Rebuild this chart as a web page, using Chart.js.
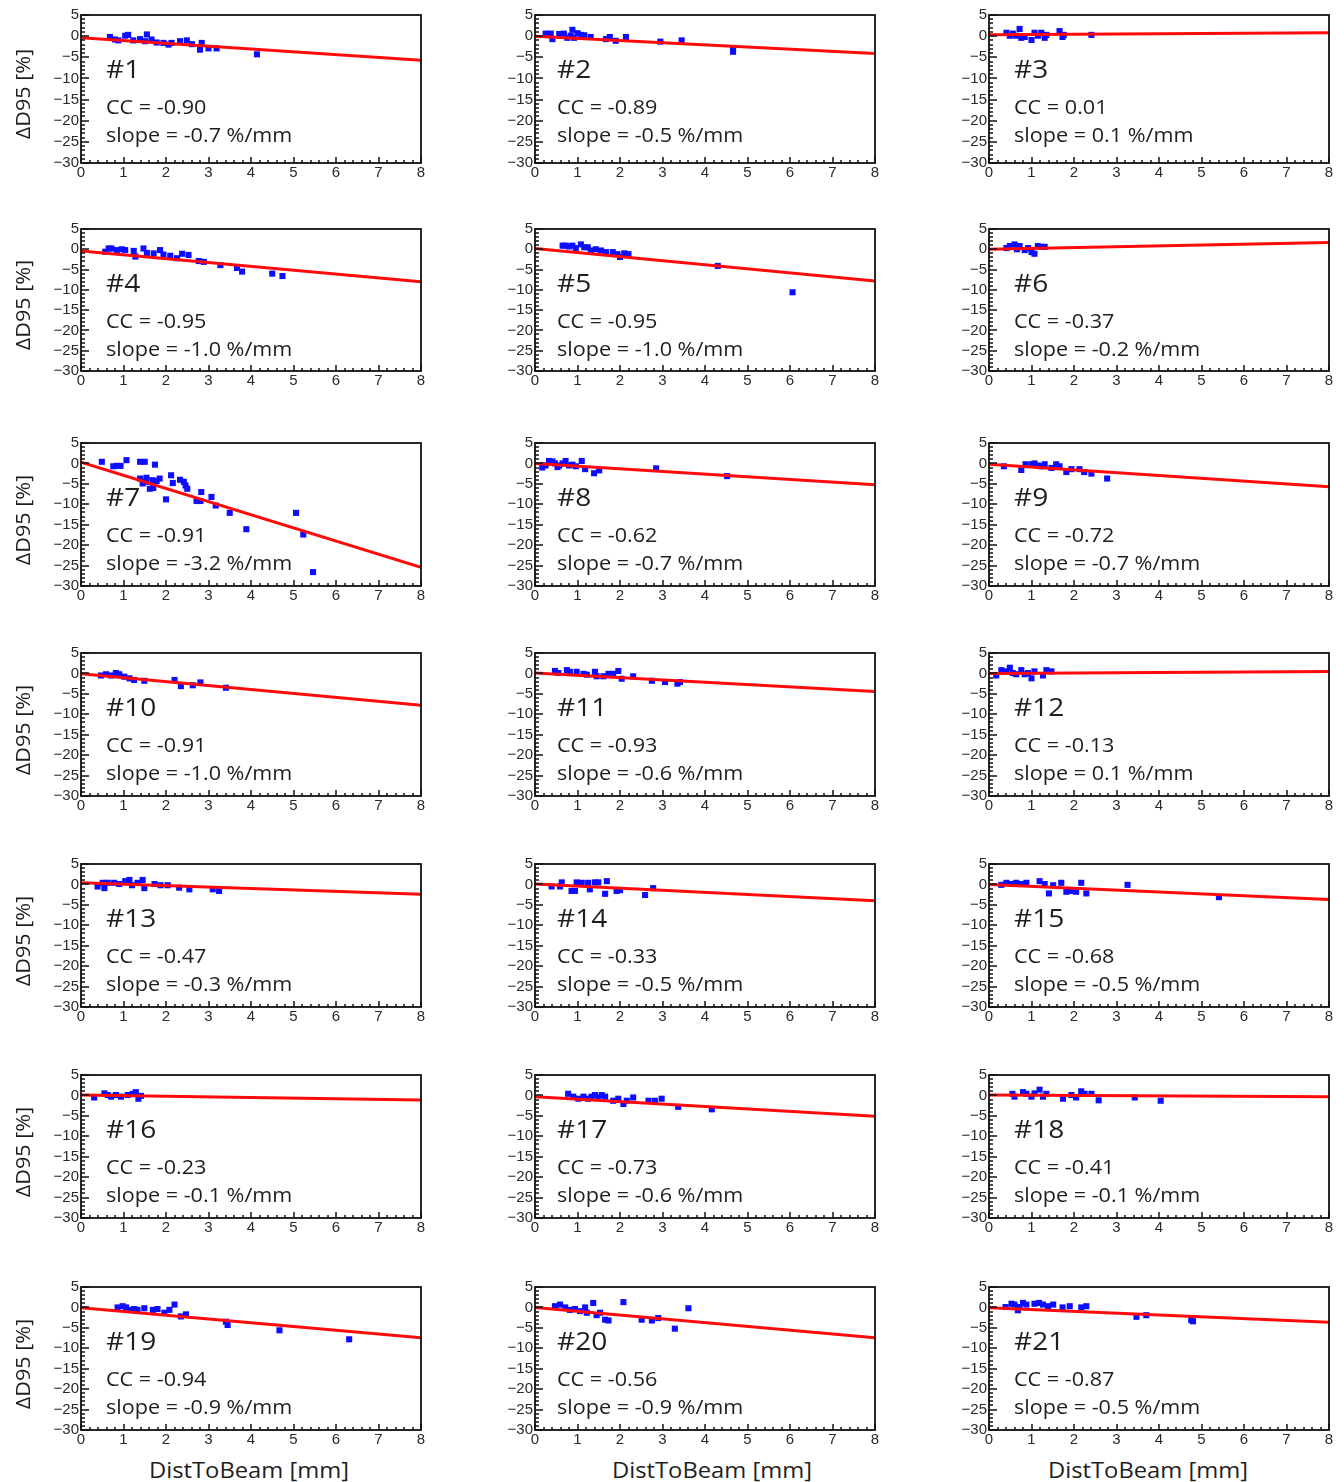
<!DOCTYPE html>
<html><head><meta charset="utf-8">
<script src="https://cdn.jsdelivr.net/npm/chart.js@4.4.1/dist/chart.umd.min.js"></script>
<style>
body{margin:0;background:#fff;width:1344px;height:1482px;position:relative;overflow:hidden;font-family:'Open Sans',sans-serif;color:#1e1e1e;}
canvas{position:absolute;}
.yt{position:absolute;white-space:nowrap;font-size:20px;transform:translate(-50%,-50%) rotate(-90deg) scaleX(1.08);}
.xt{position:absolute;white-space:nowrap;font-size:22px;transform:translate(-50%,-50%) scaleX(1.08);}
</style></head><body>
<script>
// ---- data ----
const panelLabels = ['#1','#2','#3','#4','#5','#6','#7','#8','#9','#10','#11','#12','#13','#14','#15','#16','#17','#18','#19','#20','#21'];
const ccValues = ['-0.90','-0.89','0.01','-0.95','-0.95','-0.37','-0.91','-0.62','-0.72','-0.91','-0.93','-0.13','-0.47','-0.33','-0.68','-0.23','-0.73','-0.41','-0.94','-0.56','-0.87'];
const slopeValues = ['-0.7','-0.5','0.1','-1.0','-1.0','-0.2','-3.2','-0.7','-0.7','-1.0','-0.6','0.1','-0.3','-0.5','-0.5','-0.1','-0.6','-0.1','-0.9','-0.9','-0.5'];
const fitStart = [-0.4,0,0.3,-0.4,0.2,0,0.3,0,-0.2,-0.1,0.1,0,0.4,0.1,0,0.1,-0.3,0.1,-0.1,0,-0.1];
const fitEnd = [-5.7,-4.1,0.8,-8.0,-7.8,1.7,-25.4,-5.2,-5.7,-7.8,-4.4,0.5,-2.4,-4.0,-3.7,-1.1,-5.1,-0.3,-7.4,-7.4,-3.6];
const xTicks = [0,1,2,3,4,5,6,7,8];
const yTicks = [5,0,-5,-10,-15,-20,-25,-30];
const yTitle = 'ΔD95 [%]';
const xTitle = 'DistToBeam [mm]';

const d1 = [[0.68,-0.2],[0.80,-0.8],[0.88,-1.0],[1.04,0.1],[1.11,0.3],[1.23,-1.0],[1.39,-0.7],[1.51,-1.2],[1.55,0.4],[1.66,-0.8],[1.78,-1.5],[1.94,-1.6],[2.06,-2.0],[2.13,-1.6],[2.33,-1.2],[2.49,-1.0],[2.61,-1.9],[2.80,-3.2],[2.84,-1.6],[3.0,-2.9],[3.19,-2.9],[4.14,-4.3]];
const d2 = [[0.25,0.6],[0.37,0.6],[0.41,-0.7],[0.57,0.5],[0.68,0.6],[0.76,-0.4],[0.84,0.1],[0.88,1.5],[0.92,-0.4],[1.0,0.7],[1.08,0.3],[1.16,0.2],[1.31,-0.2],[1.67,-0.7],[1.76,-0.2],[1.90,-1.1],[2.14,-0.2],[2.95,-1.3],[3.45,-1.0],[4.66,-3.0],[4.66,-3.7]];
const d3 = [[0.41,0.8],[0.49,0.1],[0.56,0.6],[0.64,0.1],[0.72,1.7],[0.76,-0.4],[0.84,-0.2],[1.0,-0.9],[1.07,0.8],[1.15,0.1],[1.23,0.8],[1.31,-0.4],[1.35,0.3],[1.66,1.2],[1.73,-0.2],[1.76,0.3],[2.41,0.3]];
const d4 = [[0.57,-0.6],[0.65,0.2],[0.72,0.2],[0.84,-0.2],[0.96,0],[1.04,-0.2],[1.24,-0.4],[1.28,-1.8],[1.47,0.2],[1.55,-0.9],[1.71,-1.0],[1.86,-0.2],[1.94,-1.3],[2.10,-1.6],[2.26,-2.2],[2.38,-1.1],[2.53,-1.4],[2.77,-2.9],[2.89,-3.1],[3.28,-3.9],[3.67,-4.6],[3.79,-5.5],[4.50,-6.0],[4.74,-6.6]];
const d5 = [[0.65,0.9],[0.72,0.9],[0.80,0.7],[0.88,0.9],[0.96,0.3],[1.08,1.2],[1.16,0.5],[1.24,0.5],[1.31,-0.3],[1.43,0],[1.55,-0.3],[1.67,-0.7],[1.83,-0.7],[1.94,-1.2],[2.0,-1.9],[2.1,-1.0],[2.2,-1.2],[4.30,-4.1],[6.06,-10.6]];
const d6 = [[0.41,0.3],[0.49,0.8],[0.60,1.2],[0.66,0],[0.72,0.8],[0.84,-0.2],[0.92,0.3],[1.0,-0.7],[1.07,-1.1],[1.15,0.8],[1.23,0.6],[1.31,0.6]];
const d7 = [[0.49,0.4],[0.76,-0.7],[0.84,-0.6],[0.93,-0.6],[1.07,0.8],[1.39,0.4],[1.50,0.4],[1.74,-0.3],[1.39,-3.7],[1.45,-4.9],[1.53,-4.5],[1.54,-3.5],[1.62,-6.2],[1.68,-4.1],[1.78,-4.3],[1.85,-3.7],[1.70,-6.0],[2.0,-8.8],[2.12,-2.9],[2.16,-4.8],[2.33,-4.0],[2.42,-4.5],[2.46,-5.4],[2.5,-6.2],[2.72,-9.2],[2.81,-9.2],[2.83,-7.0],[3.07,-8.2],[3.17,-10.3],[3.5,-12.1],[3.89,-16.1],[5.06,-12.1],[5.23,-17.4],[5.46,-26.6]];
const d8 = [[0.17,-1.0],[0.25,-0.5],[0.33,0.6],[0.41,0.5],[0.47,0],[0.53,-0.9],[0.57,-0.5],[0.65,0],[0.72,0.6],[0.80,-0.5],[0.88,-0.3],[0.96,-0.7],[1.10,0.6],[1.18,-1.4],[1.39,-2.4],[1.51,-1.7],[2.85,-1.2],[4.52,-3.1]];
const d9 = [[0.35,-0.7],[0.76,-1.6],[0.86,-0.2],[1.0,-0.2],[1.07,0],[1.15,-0.5],[1.23,-0.7],[1.31,-0.2],[1.47,-1.1],[1.58,-0.2],[1.66,-0.7],[1.82,-2.1],[1.94,-1.4],[2.13,-1.4],[2.24,-2.1],[2.41,-2.5],[2.78,-3.7]];
const d10 = [[0.47,-0.5],[0.59,-0.2],[0.71,-0.5],[0.82,0.1],[0.90,-0.2],[1.02,-0.8],[1.14,-1.2],[1.25,-1.6],[1.49,-1.8],[2.20,-1.6],[2.35,-3.1],[2.63,-2.9],[2.81,-2.2],[3.41,-3.5]];
const d11 = [[0.47,0.6],[0.55,0.1],[0.75,0.8],[0.82,0.4],[0.98,0.4],[1.14,-0.1],[1.22,-0.3],[1.41,0.4],[1.45,-0.7],[1.61,-0.7],[1.73,-0.1],[1.84,-0.1],[1.96,0.6],[2.04,-1.3],[2.31,-0.7],[2.75,-1.8],[3.06,-2.1],[3.35,-2.5],[3.41,-2.1]];
const d12 = [[0.17,-0.5],[0.29,0.8],[0.41,0.5],[0.49,1.4],[0.56,0.1],[0.64,-0.2],[0.76,0.8],[0.84,-0.2],[0.92,0.1],[1.0,-1.2],[1.07,0.5],[1.27,-0.5],[1.35,0.8],[1.47,0.5]];
const d13 = [[0.39,-0.5],[0.51,0.4],[0.55,-0.9],[0.63,0.4],[0.78,0.4],[0.90,0.1],[1.04,0.8],[1.14,1.1],[1.2,-0.2],[1.33,0.4],[1.45,1.1],[1.49,-0.9],[1.73,0.1],[1.87,-0.2],[2.04,-0.2],[2.31,-0.8],[2.55,-1.2],[3.10,-1.2],[3.25,-1.6]];
const d14 = [[0.39,-0.5],[0.59,-0.5],[0.63,0.5],[0.86,-1.6],[0.94,-1.6],[0.98,0.5],[1.10,0.4],[1.25,0.4],[1.29,-1.2],[1.41,0.5],[1.49,0.5],[1.65,-2.3],[1.69,0.8],[1.92,-1.6],[2.0,-1.4],[2.59,-2.6],[2.78,-0.9]];
const d15 = [[0.29,-0.1],[0.41,0.4],[0.53,0.1],[0.64,0.4],[0.76,0.1],[0.88,0.4],[1.19,0.8],[1.31,0.1],[1.41,-2.2],[1.51,-0.2],[1.70,0.4],[1.82,-1.8],[1.94,-1.6],[2.05,-1.8],[2.17,0.4],[2.29,-2.2],[3.26,-0.1],[5.41,-3.1]];
const d16 = [[0.31,-0.5],[0.55,0.5],[0.63,0.1],[0.71,-0.3],[0.82,0.1],[0.94,-0.3],[1.10,0.1],[1.22,0.4],[1.29,0.8],[1.35,-0.8],[1.41,-0.1]];
const d17 = [[0.78,0.4],[0.90,-0.3],[1.02,-0.8],[1.14,-0.3],[1.25,-0.8],[1.33,-0.3],[1.41,0.1],[1.49,-0.5],[1.57,0.1],[1.65,-0.3],[1.84,-1.3],[1.96,-0.8],[2.08,-2.1],[2.16,-1.3],[2.31,-0.5],[2.67,-1.3],[2.82,-1.3],[2.98,-0.8],[3.37,-2.8],[4.16,-3.4]];
const d18 = [[0.55,0.4],[0.60,-0.3],[0.80,0.8],[0.88,0.4],[1.0,-0.3],[1.07,0.5],[1.19,1.4],[1.27,-0.3],[1.35,0.4],[1.74,-0.8],[1.94,0.1],[2.05,-0.5],[2.17,1.0],[2.25,0.4],[2.41,0.4],[2.58,-1.2],[3.43,-0.5],[4.04,-1.3]];
const d19 = [[0.86,0],[0.98,0.3],[1.06,0],[1.14,-0.6],[1.25,-0.4],[1.33,-0.6],[1.49,-0.2],[1.69,-0.6],[1.80,-0.4],[1.96,-1.3],[2.08,-0.6],[2.20,0.7],[2.35,-2.2],[2.47,-1.7],[3.41,-3.5],[3.45,-4.3],[4.67,-5.6],[6.31,-7.8]];
const d20 = [[0.47,0.3],[0.59,0.7],[0.71,0],[0.82,-0.6],[0.94,-0.4],[1.06,-0.9],[1.18,0],[1.22,-1.3],[1.37,1.1],[1.45,-1.9],[1.53,-1.3],[1.65,-3.0],[1.73,-3.2],[2.08,1.3],[2.51,-3.0],[2.75,-3.2],[2.90,-2.6],[3.29,-5.2],[3.61,-0.2]];
const d21 = [[0.39,0.1],[0.53,0.9],[0.60,0.7],[0.68,-0.7],[0.72,0.1],[0.80,1.1],[0.88,0.7],[1.07,0.9],[1.18,1.1],[1.27,0.7],[1.39,0.3],[1.51,0.7],[1.73,0],[1.90,0.3],[2.17,0],[2.29,0.3],[3.47,-2.3],[3.70,-1.9],[4.76,-3.1],[4.80,-3.4]];
const panelPoints = [d1,d2,d3,d4,d5,d6,d7,d8,d9,d10,d11,d12,d13,d14,d15,d16,d17,d18,d19,d20,d21];

// ---- layout ----
const colLeft = [81, 535, 989];
const plotW = 340;
const rowTop = [15, 229, 443, 653, 864, 1075, 1287];
const rowBottom = [163, 371, 586, 796, 1007, 1218, 1430];
const textLeft = [25, 22, 25];
const PADL = 62, PADT = 12, PADR = 10, PADB = 24;
const SX = 1.08;

const fmt = v => v < 0 ? '\u2212' + Math.abs(v) : String(v);

function annoPlugin(i){
  return {
    id: 'anno' + i,
    afterDatasetsDraw(chart){
      const ctx = chart.ctx, a = chart.chartArea;
      const xs = chart.scales.x, ys = chart.scales.y;
      ctx.save();
      ctx.strokeStyle = '#111';
      ctx.lineWidth = 1.5;
      // y ticks (inward)
      for (let v = -30; v <= 5; v += 1){
        const py = Math.round(ys.getPixelForValue(v));
        const len = (v % 5 === 0) ? 8 : 4;
        ctx.beginPath(); ctx.moveTo(a.left, py); ctx.lineTo(a.left + len, py); ctx.stroke();
      }
      // x ticks (inward)
      for (let k = 0; k <= 40; k++){
        const v = k / 5;
        const px = Math.round(xs.getPixelForValue(v));
        const len = (k % 5 === 0) ? 6 : 3;
        ctx.beginPath(); ctx.moveTo(px, a.bottom); ctx.lineTo(px, a.bottom - len); ctx.stroke();
      }
      // frame
      ctx.lineWidth = 1.8;
      ctx.strokeRect(a.left, a.top, a.right - a.left, a.bottom - a.top);
      // texts
      ctx.fillStyle = '#1e1e1e';
      ctx.textBaseline = 'middle';
      ctx.textAlign = 'left';
      const tl = a.left + textLeft[i % 3];
      const lines = [
        [panelLabels[i], '26px "Open Sans"', 56],
        ['CC = ' + ccValues[i], '20px "Open Sans"', 93],
        ['slope = ' + slopeValues[i] + ' %/mm', '20px "Open Sans"', 121]
      ];
      for (const [t, f, dy] of lines){
        ctx.save();
        ctx.translate(tl, a.top + dy);
        ctx.scale(SX, 1);
        ctx.font = f;
        ctx.fillText(t, 0, 0);
        ctx.restore();
      }
      ctx.restore();
    }
  };
}

function makePanel(i){
  const r = Math.floor(i / 3), c = i % 3;
  const left = colLeft[c], top = rowTop[r];
  const h = rowBottom[r] - rowTop[r];
  const W = plotW + PADL + PADR, H = h + PADT + PADB;
  const cv = document.createElement('canvas');
  cv.width = W; cv.height = H;
  cv.style.width = W + 'px'; cv.style.height = H + 'px';
  cv.style.left = (left - PADL) + 'px'; cv.style.top = (top - PADT) + 'px';
  document.body.appendChild(cv);
  new Chart(cv, {
    type: 'scatter',
    data: { datasets: [
      { type: 'line', data: [{x: xTicks[0], y: fitStart[i]}, {x: xTicks[xTicks.length - 1], y: fitEnd[i]}],
        borderColor: '#ff0a0a', borderWidth: 3, pointRadius: 0, fill: false, tension: 0, order: 0 },
      { type: 'scatter', data: panelPoints[i].map(([x, y]) => ({x, y})),
        pointStyle: 'rect', pointRadius: 4.3, backgroundColor: '#0d0dff', borderWidth: 0, order: 1 }
    ]},
    options: {
      responsive: false, animation: false, events: [],
      layout: { padding: { left: 0, top: PADT, right: PADR, bottom: 0 } },
      plugins: { legend: { display: false }, tooltip: { enabled: false } },
      scales: {
        x: { type: 'linear', min: 0, max: 8,
          afterBuildTicks: s => { s.ticks = xTicks.map(v => ({value: v})); },
          ticks: { font: { family: 'Liberation Sans', size: 15 }, color: '#2a2a2a', padding: 1, maxRotation: 0, autoSkip: false },
          grid: { display: false, drawTicks: false }, border: { display: false },
          afterFit: s => { s.height = PADB; } },
        y: { type: 'linear', min: -30, max: 5,
          afterBuildTicks: s => { s.ticks = yTicks.map(v => ({value: v})); },
          ticks: { font: { family: 'Liberation Sans', size: 15 }, color: '#2a2a2a', padding: 2, autoSkip: false, callback: v => fmt(v) },
          grid: { display: false, drawTicks: false }, border: { display: false },
          afterFit: s => { s.width = PADL; } }
      }
    },
    plugins: [annoPlugin(i)]
  });
}

for (let i = 0; i < 21; i++) makePanel(i);

// axis titles
for (let r = 0; r < 7; r++){
  const d = document.createElement('div');
  d.className = 'yt'; d.textContent = yTitle;
  d.style.left = '22px';
  d.style.top = ((rowTop[r] + rowBottom[r]) / 2 + 5) + 'px';
  document.body.appendChild(d);
}
const xTitleCenters = [249, 712, 1148];
for (let c = 0; c < 3; c++){
  const d = document.createElement('div');
  d.className = 'xt'; d.textContent = xTitle;
  d.style.left = xTitleCenters[c] + 'px';
  d.style.top = '1469px';
  document.body.appendChild(d);
}
</script>
</body></html>
